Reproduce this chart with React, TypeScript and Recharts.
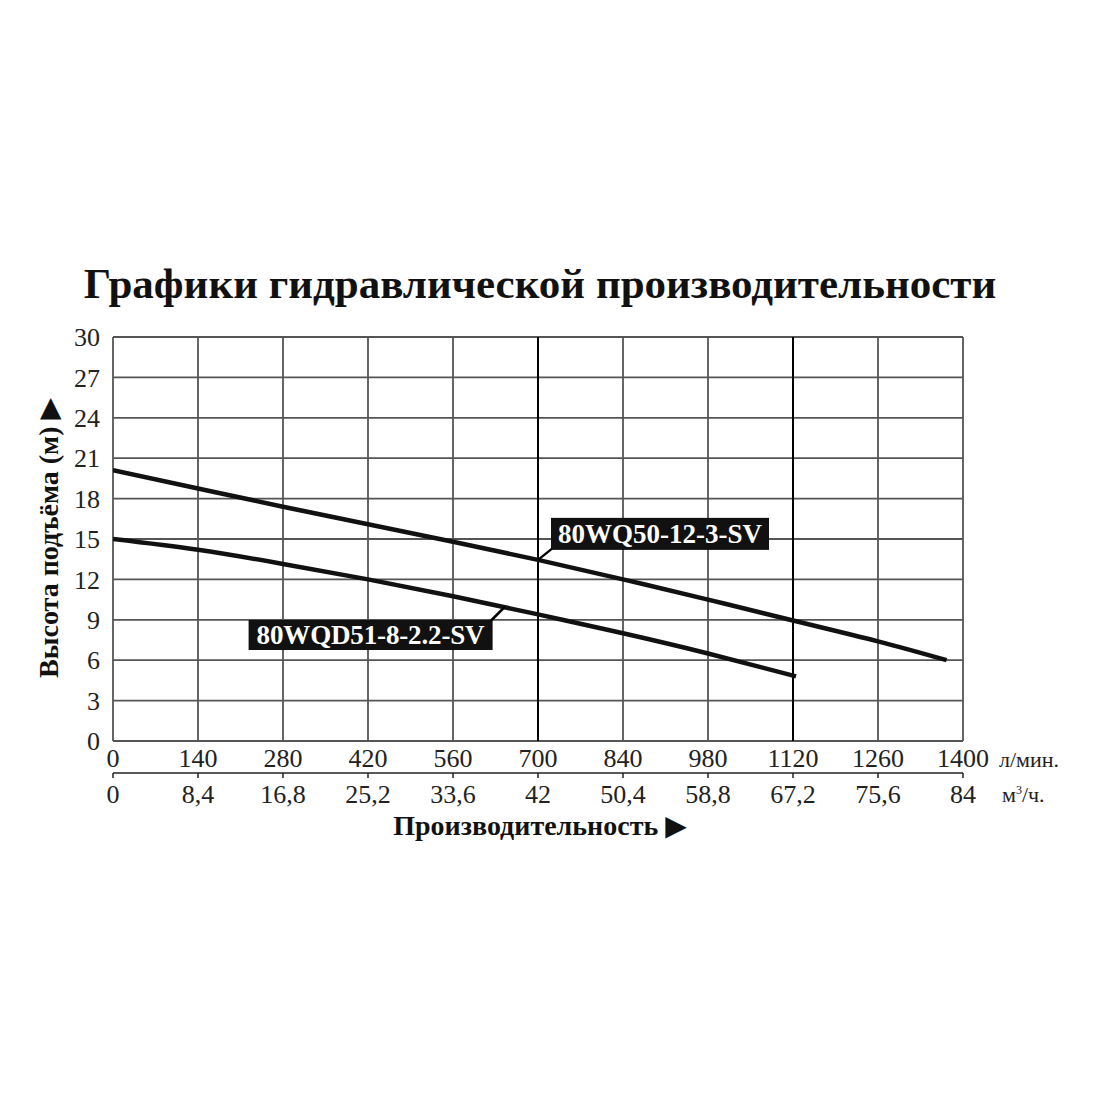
import React from 'react';
import {
  LineChart,
  Line,
  XAxis,
  YAxis,
  CartesianGrid,
  ReferenceLine,
  ReferenceDot,
} from 'recharts';

// flow, l/min
const flowTicks = [0, 140, 280, 420, 560, 700, 840, 980, 1120, 1260, 1400];
// flow, m3/h
const cubeTicks = [0, 8.4, 16.8, 25.2, 33.6, 42, 50.4, 58.8, 67.2, 75.6, 84];
const headTicks = [0, 3, 6, 9, 12, 15, 18, 21, 24, 27, 30];

const wq50 = [
  { q: 0, h: 20.1 },
  { q: 140, h: 18.75 },
  { q: 280, h: 17.4 },
  { q: 420, h: 16.1 },
  { q: 560, h: 14.8 },
  { q: 700, h: 13.45 },
  { q: 840, h: 12.0 },
  { q: 980, h: 10.5 },
  { q: 1120, h: 8.95 },
  { q: 1260, h: 7.4 },
  { q: 1373, h: 6.0 },
];

const wqd51 = [
  { q: 0, h: 15.0 },
  { q: 140, h: 14.2 },
  { q: 280, h: 13.15 },
  { q: 420, h: 12.0 },
  { q: 560, h: 10.75 },
  { q: 700, h: 9.4 },
  { q: 840, h: 8.0 },
  { q: 980, h: 6.5 },
  { q: 1125, h: 4.8 },
];

// where each model name points at its curve
const tags = [
  { name: '80WQ50-12-3-SV', q: 700, h: 13.45, side: 'up' },
  { name: '80WQD51-8-2.2-SV', q: 645, h: 9.95, side: 'down' },
];

const serif = '"Liberation Serif", "DejaVu Serif", serif';

const Tag = (props: any) => {
  const { viewBox, name, side } = props;
  const x = viewBox.x + (viewBox.width || 0) / 2;
  const y = viewBox.y + (viewBox.height || 0) / 2;
  if (side === 'up') {
    const bx = x + 13;
    const by = y - 42;
    return (
      <g>
        <line x1={x} y1={y} x2={bx + 2} y2={by + 30} stroke="#000" strokeWidth={2.5} />
        <rect x={bx} y={by} width={218} height={32} fill="#111" />
        <text x={bx + 109} y={by + 25} textAnchor="middle" fill="#fff" fontFamily={serif} fontWeight="bold" fontSize={27} textLength={204}>
          {name}
        </text>
      </g>
    );
  }
  const bx = x - 256;
  const by = y + 13;
  return (
    <g>
      <line x1={x} y1={y} x2={bx + 242} y2={by + 1} stroke="#000" strokeWidth={2.5} />
      <rect x={bx} y={by} width={244} height={30} fill="#111" />
      <text x={bx + 122} y={by + 24} textAnchor="middle" fill="#fff" fontFamily={serif} fontWeight="bold" fontSize={27} textLength={228}>
        {name}
      </text>
    </g>
  );
};

const tickStyle = { fontFamily: serif, fontSize: 26, fill: '#222' };

export default function App() {
  return (
    <div style={{ position: 'absolute', left: 0, top: 0, width: 1100, height: 1100, background: '#fff' }}>
      <LineChart
        width={1100}
        height={1100}
        margin={{ top: 337, right: 137, bottom: 285, left: 53 }}
      >
        <CartesianGrid
          xAxisId="lpm"
          yAxisId="h"
          stroke="#555"
          strokeWidth={1.8}
          verticalValues={flowTicks}
          horizontalValues={headTicks}
        />
        <XAxis
          xAxisId="lpm"
          type="number"
          dataKey="q"
          domain={[0, 1400]}
          ticks={flowTicks}
          interval={0}
          allowDataOverflow
          height={32}
          axisLine={false}
          tickLine={false}
          tickMargin={2}
          tick={tickStyle}
          label={{ value: 'л/мин.', position: 'right', offset: 36, dy: 2, style: { ...tickStyle, fontSize: 22 } }}
        />
        <XAxis
          xAxisId="m3"
          type="number"
          dataKey="q"
          domain={[0, 84]}
          allowDataOverflow
          ticks={cubeTicks}
          interval={0}
          height={42}
          axisLine={{ stroke: '#222', strokeWidth: 1.5 }}
          tickLine={{ stroke: '#222', strokeWidth: 1.5 }}
          tickSize={5}
          tickMargin={7}
          tick={tickStyle}
          tickFormatter={(v: number) => String(v).replace('.', ',')}
        />
        <YAxis
          yAxisId="h"
          type="number"
          domain={[0, 30]}
          ticks={headTicks}
          interval={0}
          width={60}
          axisLine={false}
          tickLine={false}
          tickMargin={7}
          tick={tickStyle}
        />
        <ReferenceLine xAxisId="lpm" yAxisId="h" x={700} stroke="#000" strokeWidth={2} />
        <ReferenceLine xAxisId="lpm" yAxisId="h" x={1120} stroke="#000" strokeWidth={2} />
        <Line
          xAxisId="lpm"
          yAxisId="h"
          data={wq50}
          dataKey="h"
          type="natural"
          stroke="#111"
          strokeWidth={4.5}
          dot={false}
          isAnimationActive={false}
        />
        <Line
          xAxisId="lpm"
          yAxisId="h"
          data={wqd51}
          dataKey="h"
          type="natural"
          stroke="#111"
          strokeWidth={4.5}
          dot={false}
          isAnimationActive={false}
        />
        {tags.map((t) => (
          <ReferenceDot
            key={t.name}
            xAxisId="lpm"
            yAxisId="h"
            x={t.q}
            y={t.h}
            r={0}
            fill="none"
            stroke="none"
            label={(p: any) => <Tag {...p} name={t.name} side={t.side} />}
          />
        ))}
      </LineChart>

      <div
        style={{
          position: 'absolute',
          left: 540,
          top: 283,
          transform: 'translate(-50%, -50%)',
          fontFamily: serif,
          fontWeight: 'bold',
          fontSize: 43,
          color: '#111',
          whiteSpace: 'nowrap',
        }}
      >
        Графики гидравлической производительности
      </div>

      <div
        style={{
          position: 'absolute',
          left: 48,
          top: 538,
          transform: 'translate(-50%, -50%) rotate(-90deg)',
          fontFamily: serif,
          fontWeight: 'bold',
          fontSize: 28,
          color: '#111',
          whiteSpace: 'nowrap',
        }}
      >
        Высота подъёма (м) ▶
      </div>

      <div
        style={{
          position: 'absolute',
          left: 540,
          top: 825,
          transform: 'translate(-50%, -50%)',
          fontFamily: serif,
          fontWeight: 'bold',
          fontSize: 28,
          color: '#111',
          whiteSpace: 'nowrap',
        }}
      >
        Производительность ▶
      </div>

      <div
        style={{
          position: 'absolute',
          left: 1002,
          top: 782,
          fontFamily: serif,
          fontSize: 22,
          color: '#222',
          whiteSpace: 'nowrap',
        }}
      >
        м<sup style={{ fontSize: 12 }}>3</sup>/ч.
      </div>
    </div>
  );
}
